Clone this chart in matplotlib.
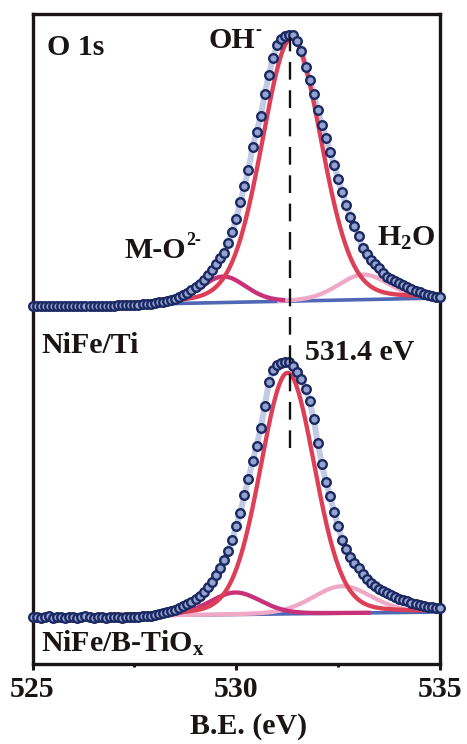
"""
Task:
    Redraw the O 1s XPS spectra of NiFe/Ti and NiFe/B-TiOx with their fitted components.

Outputs:
    out.png

Notes:
(1) Intensities are arbitrary units read off the published figure; each spectrum
    already carries its vertical offset.
(2) Fit components are Gaussian-Lorentzian peaks sitting on a linear baseline.
"""

import numpy as np
import matplotlib

matplotlib.use("Agg")
import matplotlib.pyplot as plt


# <>#<>#<>#<>#<>#<>#<>#<>#<>#<>#<>#<>#<>#<>#<>#<>#<>#<>#<>#<>#<>#<>#<>#<>#<>#<>
# <> Step 0. Data
# <>#<>#<>#<>#<>#<>#<>#<>#<>#<>#<>#<>#<>#<>#<>#<>#<>#<>#<>#<>#<>#<>#<>#<>#<>#<>


ENERGY_LIMITS = [525.0, 535.0]
BINDING_ENERGY = np.round(np.arange(525.0, 535.05, 0.1), 1)

# NiFe/Ti, 525.0 ... 535.0 eV in 0.1 eV steps
COUNTS_NIFE_TI = [
    357, 357, 357, 357, 357, 357, 357, 357, 357, 357,
    357, 357, 357, 357, 357, 357, 357, 357, 357, 357.5,
    357.5, 358, 358, 358, 358, 358.5, 358.5, 359, 359, 359.5,
    360, 361, 361.5, 362, 363, 364.5, 366, 368, 370, 373,
    376, 379, 383, 388, 393, 399, 405, 410, 420, 431,
    444, 461, 477, 493, 516, 531, 547, 569, 588, 605,
    618, 624, 627, 628, 628, 622, 612, 596, 583, 569,
    553, 538, 525, 511, 498, 484, 471, 458, 446, 437,
    427, 415, 409, 403, 399, 395, 390, 386, 384, 382,
    380, 378, 376, 374, 372.5, 371, 369.5, 368, 367, 366.5,
    366,
]

# NiFe/B-TiOx, same energy grid
COUNTS_NIFE_BTIOX = [
    46, 46.5, 45.5, 46, 47, 45.5, 46, 46.5, 45, 46,
    46.5, 45.5, 46, 47, 46, 45.5, 46.5, 46, 45.5, 46.5,
    46, 46.5, 45.5, 46, 46.5, 46, 46.5, 47, 47, 47.5,
    48, 49, 50, 51, 52.5, 53.5, 55, 57, 59, 61,
    64, 67, 71, 76, 81, 88, 95, 103, 112, 123,
    137, 150, 168, 184, 202, 217, 235, 257, 281, 293,
    298, 300, 301, 301, 297, 291, 284, 274, 262, 244,
    220, 199, 181, 167, 151, 137, 123, 114, 106, 100,
    95, 89, 84, 80, 77, 74, 72, 70, 68, 66,
    64.5, 63, 62, 60.5, 59.5, 58.5, 57.5, 56.5, 56, 55.5,
    55,
]

# Baseline value at 525 eV and at 535 eV
BASELINE_NIFE_TI = [356.5, 365.0]
BASELINE_NIFE_BTIOX = [46.0, 51.0]

# Components, in drawing order: H2O, M-O2-, OH-
COMPONENT_NAMES = ["H2O", "M-O2-", "OH-"]
CENTER_NIFE_TI = [533.12, 529.68, 531.36]
FWHM_NIFE_TI = [1.47, 1.30, 1.72]
HEIGHT_NIFE_TI = [25, 26, 263]
START_NIFE_TI = [531.0, 527.5, 527.5]
STOP_NIFE_TI = [535.0, 531.2, 535.0]

CENTER_NIFE_BTIOX = [532.60, 529.98, 531.26]
FWHM_NIFE_BTIOX = [1.70, 1.47, 1.58]
HEIGHT_NIFE_BTIOX = [27, 22, 241]
START_NIFE_BTIOX = [527.0, 527.0, 527.0]
STOP_NIFE_BTIOX = [534.15, 533.3, 535.0]

PEAK_MARK = 531.31
PEAK_MARK_SPAN = [215, 626]

GL_MIX = 0.15

COLOR_DOT_EDGE = "#1b2963"
COLOR_DOT_FACE = "#95a3cf"
COLOR_ENVELOPE = "#c3cae5"
COLOR_BASELINE = "#4f67b4"
COLOR_COMPONENTS = ["#efa9c7", "#c93179", "#dd3f57"]
COLOR_TEXT = "#1a1414"

FONT_SIZE = 21.5
SCRIPT_SIZE = 13

plt.rcParams["font.family"] = ["Liberation Serif", "DejaVu Serif"]
plt.rcParams["font.weight"] = "bold"
plt.rcParams["mathtext.fontset"] = "custom"
plt.rcParams["mathtext.rm"] = "Liberation Serif:bold"
plt.rcParams["mathtext.it"] = "Liberation Serif:bold"
plt.rcParams["mathtext.bf"] = "Liberation Serif:bold"
plt.rcParams["mathtext.default"] = "rm"


def gl_peak(energy, center, fwhm, height, lorentz_fraction=GL_MIX):
    """Gaussian-Lorentzian sum peak."""
    x = 4.0 * ((energy - center) / fwhm) ** 2
    return height * ((1 - lorentz_fraction) * np.exp(-np.log(2) * x) + lorentz_fraction / (1 + x))


def draw_spectrum(axis, counts, baseline_ends, centers, fwhms, heights, starts, stops):
    """Envelope, baseline, fitted components and the measured points."""
    axis.plot(BINDING_ENERGY, counts, color=COLOR_ENVELOPE, lw=4.3, zorder=2,
              solid_capstyle="round")
    axis.plot(ENERGY_LIMITS, baseline_ends, color=COLOR_BASELINE, lw=2.6, zorder=3,
              solid_capstyle="round", clip_on=False)
    for i, color in enumerate(COLOR_COMPONENTS):
        grid = np.linspace(starts[i], stops[i], 400)
        base = np.interp(grid, ENERGY_LIMITS, baseline_ends)
        axis.plot(grid, base + gl_peak(grid, centers[i], fwhms[i], heights[i]),
                  color=color, lw=3.1, zorder=4 + i, solid_capstyle="butt")
    axis.plot(BINDING_ENERGY, counts, "o", ms=6.2, mfc=COLOR_DOT_FACE, mec=COLOR_DOT_EDGE,
              mew=1.7, zorder=7, clip_on=False)


# <>#<>#<>#<>#<>#<>#<>#<>#<>#<>#<>#<>#<>#<>#<>#<>#<>#<>#<>#<>#<>#<>#<>#<>#<>#<>
# <> Step 1. Plot
# <>#<>#<>#<>#<>#<>#<>#<>#<>#<>#<>#<>#<>#<>#<>#<>#<>#<>#<>#<>#<>#<>#<>#<>#<>#<>


figure = plt.figure(figsize=(4.67, 7.44), dpi=100)
axis = figure.add_axes([32.5 / 467, 80 / 744, 407.5 / 467, 650 / 744])
axis.set_xlim(*ENERGY_LIMITS)
axis.set_ylim(-1, 649)

draw_spectrum(axis, COUNTS_NIFE_TI, BASELINE_NIFE_TI, CENTER_NIFE_TI, FWHM_NIFE_TI,
              HEIGHT_NIFE_TI, START_NIFE_TI, STOP_NIFE_TI)
draw_spectrum(axis, COUNTS_NIFE_BTIOX, BASELINE_NIFE_BTIOX, CENTER_NIFE_BTIOX,
              FWHM_NIFE_BTIOX, HEIGHT_NIFE_BTIOX, START_NIFE_BTIOX, STOP_NIFE_BTIOX)

axis.plot([PEAK_MARK, PEAK_MARK], PEAK_MARK_SPAN, color="#111111", lw=1.7,
          linestyle=(0, (7.5, 4.5)), zorder=8)

labels = [
    (525.36, 608, "O 1s", FONT_SIZE),
    (529.31, 615, "OH", FONT_SIZE),
    (530.47, 628, "-", SCRIPT_SIZE),
    (527.25, 405, "M-O", FONT_SIZE),
    (528.77, 418, "2-", SCRIPT_SIZE),
    (533.46, 417, "H$_{2}$O", FONT_SIZE),
    (525.21, 310, "NiFe/Ti", FONT_SIZE),
    (531.69, 303, "531.4 eV", FONT_SIZE),
    (525.21, 11, "NiFe/B-TiO$_{x}$", FONT_SIZE),
]
for x, y, text, size in labels:
    axis.text(x, y, text, fontsize=size, ha="left", va="baseline", color=COLOR_TEXT,
              zorder=9)

axis.set_yticks([])
axis.set_xticks([525, 530, 535])
axis.set_xticks([527.5, 532.5], minor=True)
axis.tick_params(axis="x", which="major", direction="out", length=4.5, width=2.2, pad=4,
                 labelsize=FONT_SIZE, colors=COLOR_TEXT)
axis.tick_params(axis="x", which="minor", direction="out", length=2.5, width=2.0)
for spine in axis.spines.values():
    spine.set_linewidth(2.4)
    spine.set_color(COLOR_TEXT)

axis.set_xlabel("B.E. (eV)", fontsize=FONT_SIZE, fontweight="bold", color=COLOR_TEXT)
axis.xaxis.set_label_coords(0.531, -0.075)

figure.savefig("out.png", dpi=100)
plt.close(figure)
